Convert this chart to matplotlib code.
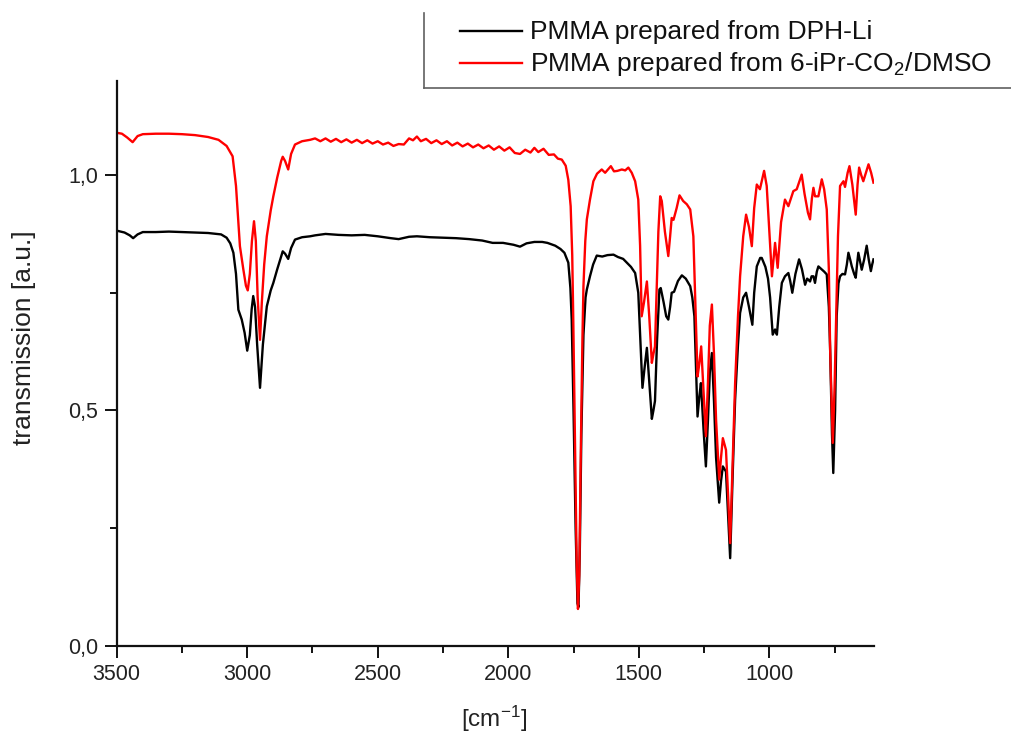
import matplotlib
matplotlib.use("Agg")
import matplotlib.pyplot as plt
from matplotlib.lines import Line2D
from matplotlib.ticker import MultipleLocator, FixedLocator, FuncFormatter

plt.rcParams['font.family'] = ['Liberation Sans', 'DejaVu Sans']
plt.rcParams['mathtext.fontset'] = 'custom'
plt.rcParams['mathtext.rm'] = 'Liberation Sans'
plt.rcParams['mathtext.it'] = 'Liberation Sans'
plt.rcParams['mathtext.bf'] = 'Liberation Sans'

# ---------------- data ----------------
label_black = "PMMA prepared from DPH-Li"
label_red = "PMMA prepared from 6-iPr-CO$_2$/DMSO"

wn_black = [3500, 3470, 3450, 3437, 3420, 3400, 3350, 3300, 3250, 3200, 3150, 3100,
            3079, 3065, 3053, 3043, 3034, 3021, 3010, 3000, 2990, 2983, 2977, 2970,
            2962, 2951, 2940, 2925, 2910, 2900, 2885, 2864, 2855, 2843, 2832, 2817,
            2790, 2759, 2740, 2700, 2650, 2600, 2550, 2500, 2450, 2420, 2380, 2350,
            2300, 2250, 2200, 2150, 2100, 2060, 2020, 1980, 1955, 1930, 1900, 1870,
            1850, 1820, 1800, 1785, 1770, 1762, 1757, 1750, 1742, 1735, 1731, 1726,
            1720, 1712, 1704, 1699, 1687, 1675, 1661, 1640, 1620, 1597, 1580, 1560,
            1546, 1530, 1514, 1502, 1494, 1486, 1478, 1469, 1460, 1450, 1444, 1438,
            1430, 1421, 1416, 1405, 1395, 1387, 1380, 1374, 1365, 1350, 1335, 1320,
            1303, 1295, 1287, 1280, 1275, 1268, 1262, 1252, 1243, 1235, 1228, 1220,
            1212, 1204, 1192, 1185, 1178, 1166, 1158, 1150, 1140, 1131, 1120, 1112,
            1100, 1089, 1078, 1065, 1058, 1048, 1035, 1029, 1015, 1005, 997, 987,
            978, 971, 962, 952, 940, 927, 920, 912, 900, 886, 875, 863, 855, 844,
            838, 831, 825, 818, 812, 800, 790, 780, 772, 767, 760, 755, 748, 742,
            735, 729, 720, 710, 703, 697, 690, 684, 675, 669, 664, 659, 652, 646,
            637, 627, 619, 611, 606, 601]
t_black = [0.882, 0.878, 0.872, 0.866, 0.874, 0.879, 0.879, 0.880, 0.879, 0.878, 0.877, 0.874,
           0.867, 0.855, 0.835, 0.790, 0.714, 0.693, 0.665, 0.627, 0.660, 0.715, 0.743, 0.720,
           0.640, 0.548, 0.640, 0.721, 0.755, 0.771, 0.800, 0.838, 0.833, 0.822, 0.845, 0.863,
           0.868, 0.870, 0.872, 0.875, 0.873, 0.872, 0.873, 0.870, 0.866, 0.864, 0.869, 0.870,
           0.868, 0.867, 0.866, 0.864, 0.861, 0.856, 0.856, 0.852, 0.848, 0.855, 0.858, 0.858,
           0.856, 0.850, 0.843, 0.835, 0.814, 0.760, 0.693, 0.500, 0.250, 0.090, 0.082, 0.200,
           0.450, 0.660, 0.740, 0.757, 0.785, 0.810, 0.829, 0.827, 0.830, 0.831, 0.826, 0.822,
           0.814, 0.805, 0.792, 0.750, 0.650, 0.548, 0.590, 0.633, 0.560, 0.482, 0.500, 0.520,
           0.650, 0.757, 0.760, 0.730, 0.700, 0.693, 0.720, 0.750, 0.752, 0.775, 0.787, 0.780,
           0.764, 0.740, 0.700, 0.580, 0.487, 0.530, 0.558, 0.460, 0.381, 0.480, 0.580, 0.622,
           0.520, 0.400, 0.304, 0.350, 0.381, 0.370, 0.280, 0.186, 0.370, 0.523, 0.640, 0.707,
           0.740, 0.750, 0.720, 0.682, 0.750, 0.806, 0.824, 0.824, 0.805, 0.780, 0.740, 0.661,
           0.672, 0.661, 0.720, 0.771, 0.785, 0.792, 0.775, 0.750, 0.790, 0.821, 0.800, 0.767, 0.780, 0.774,
           0.785, 0.785, 0.771, 0.795, 0.806, 0.800, 0.795, 0.789, 0.720, 0.629, 0.450, 0.367, 0.500, 0.700,
           0.770, 0.785, 0.790, 0.789, 0.810, 0.835, 0.820, 0.806, 0.790, 0.782, 0.810, 0.835, 0.815, 0.799,
           0.820, 0.850, 0.820, 0.796, 0.810, 0.821]

wn_red = [3500, 3480, 3460, 3439, 3420, 3400, 3350, 3300, 3250, 3200, 3150, 3110,
          3079, 3056, 3043, 3035, 3028, 3015, 3005, 2998, 2990, 2982, 2974, 2967,
          2960, 2951, 2944, 2935, 2925, 2910, 2900, 2885, 2870, 2864, 2855, 2843,
          2832, 2817, 2790, 2759, 2740, 2720, 2700, 2680, 2660, 2640, 2620, 2600,
          2580, 2560, 2540, 2520, 2500, 2480, 2460, 2440, 2420, 2400, 2380, 2365,
          2350, 2335, 2315, 2295, 2275, 2255, 2235, 2215, 2195, 2175, 2155, 2135,
          2115, 2095, 2075, 2055, 2035, 2015, 1995, 1975, 1955, 1935, 1915, 1900,
          1885, 1865, 1845, 1825, 1810, 1795, 1780, 1770, 1761, 1755, 1751, 1745,
          1738, 1733, 1728, 1722, 1716, 1712, 1705, 1699, 1687, 1674, 1660, 1642,
          1629, 1607, 1595, 1582, 1565, 1552, 1540, 1527, 1514, 1502, 1495, 1489,
          1480, 1469, 1460, 1450, 1444, 1438, 1432, 1425, 1418, 1412, 1400, 1387,
          1380, 1374, 1367, 1355, 1344, 1330, 1316, 1303, 1291, 1283, 1275, 1268,
          1261, 1252, 1243, 1235, 1228, 1220, 1212, 1204, 1192, 1185, 1178, 1166,
          1158, 1150, 1140, 1131, 1120, 1112, 1100, 1089, 1078, 1067, 1058, 1048,
          1036, 1020, 1010, 1000, 990, 984, 978, 973, 968, 955, 940, 927, 908, 895,
          876, 865, 852, 844, 837, 831, 825, 812, 799, 790, 780, 772, 767, 757, 750,
          744, 737, 729, 716, 710, 700, 693, 682, 669, 662, 656, 648, 640, 630, 620,
          610, 601]
t_red = [1.090, 1.088, 1.080, 1.070, 1.083, 1.087, 1.088, 1.088, 1.087, 1.085, 1.081, 1.075,
         1.062, 1.040, 0.977, 0.910, 0.849, 0.800, 0.765, 0.755, 0.790, 0.860, 0.902, 0.860,
         0.740, 0.650, 0.730, 0.810, 0.870, 0.925, 0.955, 0.995, 1.030, 1.039, 1.030, 1.012,
         1.045, 1.065, 1.072, 1.075, 1.078, 1.072, 1.078, 1.071, 1.077, 1.070, 1.076, 1.069,
         1.075, 1.068, 1.074, 1.067, 1.072, 1.065, 1.069, 1.062, 1.066, 1.065, 1.078, 1.074,
         1.082, 1.072, 1.077, 1.068, 1.074, 1.066, 1.072, 1.063, 1.069, 1.061, 1.067, 1.059,
         1.065, 1.057, 1.063, 1.054, 1.061, 1.052, 1.059, 1.047, 1.045, 1.054, 1.048, 1.058,
         1.049, 1.056, 1.043, 1.044, 1.035, 1.033, 1.020, 0.990, 0.934, 0.830, 0.693, 0.450,
         0.180, 0.078, 0.150, 0.420, 0.650, 0.764, 0.860, 0.906, 0.948, 0.987, 1.003, 1.012,
         1.005, 1.019, 1.008, 1.009, 1.012, 1.010, 1.016, 1.005, 0.987, 0.948, 0.850, 0.700,
         0.730, 0.774, 0.700, 0.601, 0.620, 0.636, 0.750, 0.880, 0.955, 0.945, 0.880, 0.828,
         0.870, 0.909, 0.905, 0.930, 0.957, 0.945, 0.938, 0.927, 0.870, 0.720, 0.572, 0.600,
         0.636, 0.540, 0.445, 0.560, 0.680, 0.725, 0.620, 0.480, 0.353, 0.400, 0.441, 0.416,
         0.320, 0.218, 0.400, 0.558, 0.700, 0.785, 0.870, 0.916, 0.890, 0.849, 0.930, 0.980,
         0.970, 1.009, 0.977, 0.880, 0.785, 0.820, 0.856, 0.830, 0.803, 0.900, 0.948, 0.934, 0.966, 0.970,
         1.001, 0.960, 0.920, 0.906, 0.950, 0.973, 0.955, 0.955, 0.991, 0.970, 0.927, 0.800, 0.629, 0.431, 0.550,
         0.700, 0.870, 0.977, 0.987, 0.975, 1.005, 1.019, 0.980, 0.916, 0.980, 1.016, 1.000, 0.987, 1.005, 1.023,
         1.005, 0.984]

x_ticks = [3500, 3000, 2500, 2000, 1500, 1000]
y_ticks = [0.0, 0.5, 1.0]

# ---------------- figure ----------------
fig = plt.figure(figsize=(10.11, 7.35), dpi=100)
ax = fig.add_axes([116.7 / 1011, 1 - 645.7 / 735, (874 - 116.7) / 1011, (645.7 - 81) / 735])

ax.plot(wn_black, t_black, color='black', lw=1.7, solid_joinstyle='round')
ax.plot(wn_red, t_red, color='#ff0000', lw=1.7, solid_joinstyle='round')

ax.set_xlim(3500, 599)
ax.set_ylim(0, 1.2)
ax.xaxis.set_major_locator(FixedLocator(x_ticks))
ax.xaxis.set_minor_locator(MultipleLocator(250))
ax.yaxis.set_major_locator(FixedLocator(y_ticks))
ax.yaxis.set_minor_locator(MultipleLocator(0.25))
ax.yaxis.set_major_formatter(FuncFormatter(lambda v, p: f"{v:.1f}".replace('.', ',')))

for s in ['top', 'right']:
    ax.spines[s].set_visible(False)
for s in ['left', 'bottom']:
    ax.spines[s].set_linewidth(1.6)
    ax.spines[s].set_color('#111111')

ax.tick_params(which='major', direction='out', length=8.5, width=1.4, labelsize=15.5,
               pad=5, colors='#111111')
ax.tick_params(which='minor', direction='out', length=5, width=1.4, colors='#111111')
for lab in ax.get_xticklabels() + ax.get_yticklabels():
    lab.set_color('#222222')

fig.text(24 / 1011, 1 - 338 / 735, "transmission [a.u.]", rotation=90,
         ha='center', va='center', fontsize=19, color='#222222')
fig.text(494 / 1011, 1 - 719 / 735, "[cm$^{-1}$]", ha='center', va='center',
         fontsize=17.5, color='#222222')

# legend (box partly outside the figure)
fig.add_artist(Line2D([423.8 / 1011, 423.8 / 1011], [1 - 13 / 735, 1 - 88 / 735],
                      transform=fig.transFigure, color='#606060', lw=1.2))
fig.add_artist(Line2D([423.8 / 1011, 1.0], [1 - 88 / 735, 1 - 88 / 735],
                      transform=fig.transFigure, color='#606060', lw=1.2))
for ly, col in [(31.0, 'black'), (62.5, '#ff0000')]:
    fig.add_artist(Line2D([459.8 / 1011, 522.3 / 1011], [1 - ly / 735, 1 - ly / 735],
                          transform=fig.transFigure, color=col, lw=1.7))
for by, lbl in [(39.5, label_black), (71.0, label_red)]:
    fig.text(529.8 / 1011, 1 - by / 735, lbl, ha='left', va='baseline',
             fontsize=19, color='#111111')

fig.savefig("out.png", dpi=100)
